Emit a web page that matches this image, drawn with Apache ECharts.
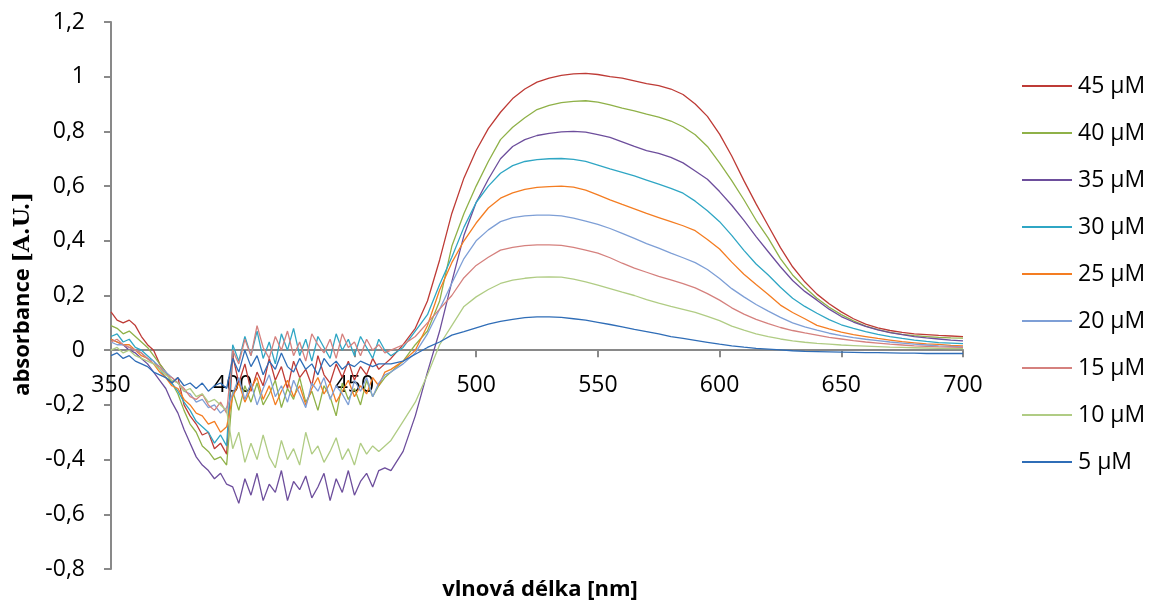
<!DOCTYPE html>
<html><head><meta charset="utf-8">
<script src="https://cdn.jsdelivr.net/npm/echarts@6/dist/echarts.min.js"></script>
<style>html,body{margin:0;padding:0;background:#fff}#c{width:1151px;height:604px}</style>
</head><body><div id="c"></div>
<script>
const wavelengths = [350,352.5,355,357.5,360,362.5,365,367.5,370,372.5,375,377.5,380,382.5,385,387.5,390,392.5,395,397.5,
400,402.5,405,407.5,410,412.5,415,417.5,420,422.5,425,427.5,430,432.5,435,437.5,440,442.5,445,447.5,450,452.5,455,457.5,460,462.5,
465,470,475,480,485,490,495,500,505,510,515,520,525,530,535,540,545,550,555,560,565,570,575,580,585,590,595,600,
605,610,615,620,625,630,635,640,645,650,655,660,665,670,675,680,685,690,695,700];

const s45 = [0.14,0.11,0.10,0.11,0.09,0.05,0.02,0.0,-0.05,-0.08,-0.12,-0.1,-0.2,-0.24,-0.27,-0.31,-0.3,-0.36,-0.34,-0.38,
-0.02,-0.12,-0.05,-0.15,-0.08,-0.13,-0.03,-0.11,-0.06,-0.14,-0.04,-0.1,-0.07,-0.13,-0.02,-0.09,-0.12,-0.05,-0.1,-0.04,-0.11,-0.06,-0.09,-0.03,-0.07,-0.05,
-0.03,0.02,0.08,0.18,0.33,0.5,0.63,0.73,0.81,0.87,0.92,0.955,0.98,0.995,1.005,1.01,1.012,1.008,1.0,0.995,0.985,0.975,0.967,0.955,0.935,0.9,0.855,0.79,
0.71,0.62,0.535,0.455,0.375,0.305,0.25,0.205,0.17,0.14,0.115,0.095,0.082,0.072,0.065,0.06,0.057,0.054,0.052,0.05];

const s40 = [0.09,0.08,0.06,0.07,0.05,0.03,0.01,-0.02,-0.05,-0.08,-0.12,-0.16,-0.22,-0.27,-0.3,-0.35,-0.37,-0.4,-0.39,-0.42,
-0.15,-0.22,-0.13,-0.19,-0.12,-0.2,-0.16,-0.11,-0.21,-0.14,-0.18,-0.1,-0.19,-0.15,-0.22,-0.13,-0.17,-0.24,-0.12,-0.18,-0.14,-0.2,-0.11,-0.17,-0.13,-0.1,
-0.08,-0.04,0.02,0.07,0.18,0.38,0.5,0.6,0.69,0.77,0.815,0.85,0.88,0.895,0.905,0.91,0.912,0.907,0.897,0.885,0.875,0.863,0.852,0.838,0.817,0.788,0.745,0.685,
0.62,0.55,0.475,0.41,0.335,0.275,0.23,0.19,0.157,0.13,0.107,0.088,0.075,0.065,0.058,0.053,0.05,0.047,0.045,0.044];

const s35 = [0.04,0.03,0.02,0.0,-0.01,-0.03,-0.05,-0.08,-0.11,-0.14,-0.19,-0.23,-0.29,-0.34,-0.39,-0.42,-0.44,-0.47,-0.45,-0.49,
-0.5,-0.56,-0.47,-0.53,-0.45,-0.55,-0.49,-0.52,-0.44,-0.55,-0.48,-0.51,-0.46,-0.54,-0.5,-0.45,-0.55,-0.47,-0.52,-0.44,-0.53,-0.48,-0.45,-0.5,-0.44,-0.43,
-0.44,-0.37,-0.24,-0.08,0.07,0.25,0.42,0.54,0.625,0.7,0.745,0.77,0.785,0.793,0.798,0.8,0.797,0.788,0.778,0.762,0.745,0.73,0.72,0.705,0.685,0.655,0.625,0.58,
0.53,0.475,0.415,0.36,0.305,0.255,0.215,0.183,0.15,0.123,0.103,0.087,0.074,0.064,0.057,0.05,0.045,0.041,0.037,0.034];

const s30 = [0.05,0.06,0.03,0.04,0.01,0.0,-0.02,-0.04,-0.07,-0.1,-0.12,-0.15,-0.19,-0.22,-0.26,-0.28,-0.3,-0.34,-0.31,-0.35,
0.02,-0.04,0.05,-0.02,0.07,-0.03,0.03,-0.05,0.06,0.0,0.08,-0.02,0.04,-0.04,0.05,0.01,-0.03,0.06,0.0,0.04,-0.02,0.05,0.01,-0.03,0.04,0.0,
-0.02,0.01,0.07,0.13,0.24,0.34,0.45,0.54,0.6,0.647,0.675,0.69,0.697,0.7,0.701,0.698,0.69,0.677,0.663,0.65,0.637,0.622,0.607,0.592,0.574,0.545,0.51,0.47,
0.42,0.365,0.315,0.275,0.23,0.19,0.16,0.135,0.112,0.093,0.08,0.068,0.058,0.05,0.043,0.037,0.032,0.028,0.026,0.024];

const s25 = [0.04,0.03,0.02,0.02,0.0,-0.02,-0.03,-0.05,-0.08,-0.1,-0.13,-0.14,-0.18,-0.2,-0.23,-0.24,-0.27,-0.26,-0.3,-0.28,
-0.17,-0.12,-0.19,-0.14,-0.1,-0.18,-0.13,-0.2,-0.15,-0.11,-0.17,-0.13,-0.2,-0.14,-0.1,-0.16,-0.12,-0.19,-0.15,-0.11,-0.17,-0.13,-0.16,-0.1,-0.13,-0.08,
-0.07,-0.04,0.0,0.09,0.22,0.32,0.4,0.465,0.52,0.556,0.575,0.588,0.595,0.598,0.6,0.596,0.585,0.568,0.55,0.533,0.517,0.5,0.485,0.47,0.455,0.437,0.405,0.37,
0.322,0.278,0.24,0.204,0.165,0.138,0.115,0.091,0.078,0.066,0.057,0.05,0.043,0.037,0.031,0.027,0.023,0.021,0.018,0.016];

const s20 = [0.03,0.02,0.02,0.01,0.0,-0.01,-0.03,-0.04,-0.06,-0.08,-0.1,-0.12,-0.15,-0.16,-0.19,-0.18,-0.21,-0.2,-0.23,-0.21,
-0.16,-0.1,-0.18,-0.12,-0.2,-0.14,-0.09,-0.17,-0.13,-0.19,-0.11,-0.16,-0.21,-0.12,-0.15,-0.1,-0.18,-0.13,-0.16,-0.2,-0.11,-0.15,-0.1,-0.17,-0.12,-0.09,
-0.08,-0.05,-0.01,0.06,0.15,0.245,0.335,0.4,0.44,0.47,0.485,0.491,0.494,0.494,0.491,0.483,0.472,0.46,0.445,0.427,0.409,0.39,0.373,0.355,0.338,0.32,0.295,0.262,
0.225,0.195,0.167,0.143,0.12,0.1,0.085,0.073,0.062,0.053,0.046,0.04,0.035,0.03,0.026,0.022,0.019,0.016,0.014,0.012];

const s15 = [0.03,0.04,0.02,0.01,0.0,-0.01,-0.03,-0.05,-0.06,-0.09,-0.1,-0.12,-0.14,-0.17,-0.18,-0.16,-0.2,-0.22,-0.19,-0.23,
0.0,-0.05,0.04,-0.02,0.09,0.01,-0.03,0.05,0.0,0.07,-0.02,0.03,-0.04,0.06,0.02,-0.01,0.04,-0.03,0.06,0.01,0.03,-0.02,0.04,0.0,0.02,-0.01,
0.0,0.02,0.05,0.1,0.15,0.2,0.265,0.31,0.34,0.366,0.376,0.382,0.385,0.385,0.383,0.376,0.366,0.355,0.338,0.318,0.3,0.285,0.27,0.257,0.243,0.228,0.207,0.183,
0.155,0.132,0.113,0.097,0.083,0.072,0.063,0.055,0.047,0.041,0.035,0.03,0.026,0.022,0.019,0.016,0.014,0.012,0.011,0.01];

const s10 = [0.0,0.01,-0.01,0.0,-0.02,-0.03,-0.04,-0.05,-0.07,-0.09,-0.11,-0.12,-0.15,-0.14,-0.17,-0.16,-0.19,-0.18,-0.2,-0.22,
-0.36,-0.3,-0.41,-0.34,-0.4,-0.31,-0.39,-0.43,-0.33,-0.4,-0.36,-0.42,-0.3,-0.38,-0.35,-0.41,-0.37,-0.32,-0.4,-0.36,-0.42,-0.34,-0.38,-0.35,-0.37,-0.35,
-0.33,-0.26,-0.19,-0.09,0.02,0.09,0.16,0.195,0.222,0.244,0.256,0.263,0.267,0.268,0.267,0.26,0.25,0.238,0.225,0.212,0.2,0.185,0.172,0.16,0.149,0.138,0.124,0.108,
0.088,0.073,0.06,0.05,0.041,0.034,0.029,0.025,0.022,0.019,0.017,0.015,0.013,0.011,0.01,0.009,0.008,0.007,0.006,0.006];

const s5 = [-0.02,-0.01,-0.03,-0.02,-0.04,-0.05,-0.06,-0.08,-0.09,-0.1,-0.12,-0.1,-0.13,-0.12,-0.14,-0.12,-0.15,-0.13,-0.12,-0.14,
-0.03,-0.08,0.0,-0.06,-0.02,-0.09,-0.04,-0.07,-0.01,-0.06,-0.08,-0.03,-0.07,-0.05,-0.09,-0.03,-0.06,-0.04,-0.07,-0.05,-0.06,-0.04,-0.05,-0.06,-0.05,-0.05,
-0.05,-0.04,-0.015,0.01,0.03,0.055,0.068,0.082,0.095,0.105,0.113,0.119,0.122,0.122,0.12,0.115,0.11,0.102,0.094,0.085,0.076,0.068,0.06,0.05,0.043,0.036,0.029,0.022,
0.016,0.011,0.007,0.004,0.001,-0.002,-0.004,-0.005,-0.006,-0.007,-0.008,-0.009,-0.009,-0.01,-0.011,-0.011,-0.012,-0.012,-0.012,-0.012];

const seriesNames = ['45 µM','40 µM','35 µM','30 µM','25 µM','20 µM','15 µM','10 µM','5 µM'];
const seriesValues = [s45,s40,s35,s30,s25,s20,s15,s10,s5];
const seriesColors = ['#BE3B36','#8FB148','#6D4E9C','#2FA6C4','#F47D22','#7E9FD6','#D5817E','#B0CC84','#2F6DB7'];

const xTitle = 'vlnová délka [nm]';
const yTitleMain = 'absorbance';
const yTitleUnit = '[A.U.]';

const yMin = -0.8, yMax = 1.2;
const gridTop = 22, gridBottom = 35, H = 604;
const gridH = H - gridTop - gridBottom;
// distance (px) from grid bottom to the y=0 line, so the x axis sits on zero
const zeroOffset = gridH * (0 - yMin) / (yMax - yMin);

const chart = echarts.init(document.getElementById('c'), null, {renderer:'canvas'});
const FONT = '"Open Sans", "Noto Sans", sans-serif';
const axisColor = '#898989';

chart.setOption({
  animation: false,
  backgroundColor: '#ffffff',
  grid: {left: 111, right: 188, top: gridTop, bottom: gridBottom, containLabel: false, outerBoundsMode: 'none'},
  xAxis: {
    type: 'value', min: 350, max: 700, interval: 50,
    offset: -zeroOffset,
    axisLine: {show: true, onZero: false, lineStyle: {color: axisColor, width: 2}},
    axisTick: {show: true, inside: false, length: 7, lineStyle: {color: axisColor, width: 2}},
    axisLabel: {color: '#000', fontSize: 23, fontFamily: FONT, margin: 24, showMinLabel: true, showMaxLabel: true},
    splitLine: {show: false}
  },
  yAxis: {
    type: 'value', min: yMin, max: yMax, interval: 0.2,
    axisLine: {show: true, lineStyle: {color: axisColor, width: 2}},
    axisTick: {show: true, inside: false, length: 7, lineStyle: {color: axisColor, width: 2}},
    axisLabel: {color: '#000', fontSize: 23, fontFamily: FONT, margin: 26,
      formatter: v => String(Math.round(v * 10) / 10).replace('.', ',')},
    splitLine: {show: false}
  },
  legend: {
    orient: 'vertical', left: 1022, top: 74, padding: 0,
    data: seriesNames,
    icon: 'rect', itemWidth: 50, itemHeight: 2, itemGap: 23,
    textStyle: {color: '#000', fontSize: 23, fontFamily: FONT, lineHeight: 24, padding: [0,0,0,1]}
  },
  graphic: [
    {type: 'text', x: 540, y: 590, style: {text: xTitle, fill: '#000', font: 'bold 22px ' + FONT, align: 'center', verticalAlign: 'middle'}},
    {type: 'text', x: 23, y: 294, rotation: Math.PI / 2,
      style: {text: '{a|' + yTitleMain + '} {b|' + yTitleUnit + '}', fill: '#000', align: 'center', verticalAlign: 'middle',
        fontSize: 22, fontWeight: 'bold', fontFamily: FONT,
        rich: {a: {fontSize: 22, fontWeight: 'bold', fontFamily: FONT, fill: '#000'},
               b: {fontSize: 22, fontWeight: 'bold', fontFamily: '"DejaVu Serif", "Liberation Serif", serif', fill: '#000'}}}}
  ],
  series: seriesNames.map((name, k) => ({
    name: name, type: 'line', showSymbol: false, symbol: 'none',
    data: wavelengths.map((w, i) => [w, seriesValues[k][i]]),
    lineStyle: {color: seriesColors[k], width: 1.3},
    itemStyle: {color: seriesColors[k]},
    emphasis: {disabled: true}
  }))
});
</script>
</body></html>
